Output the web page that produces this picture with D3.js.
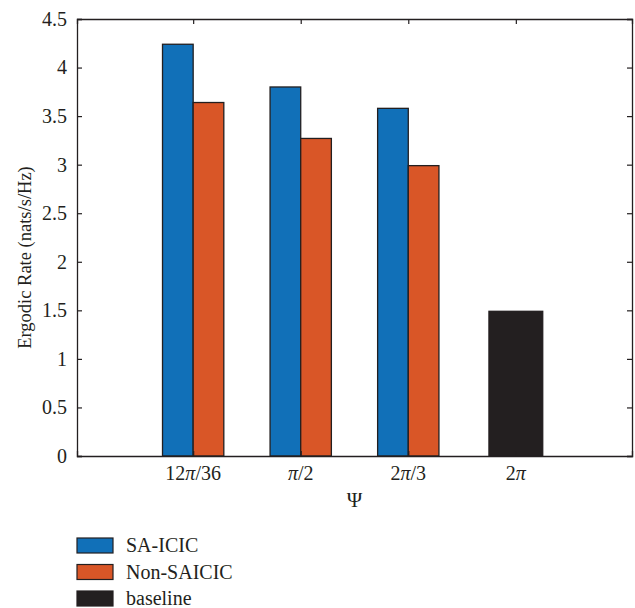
<!DOCTYPE html>
<html>
<head>
<meta charset="utf-8">
<script src="https://cdn.jsdelivr.net/npm/d3@7/dist/d3.min.js"></script>
<style>
  body { margin: 0; background: #fff; }
  svg text { font-family: "Liberation Serif", serif; fill: #231f20; }
</style>
</head>
<body>
<div id="chart"></div>
<script>
// values
const categories = ["12π/36", "π/2", "2π/3", "2π"];
const saIcic = [4.24, 3.80, 3.58];          // first three categories
const nonSaicic = [3.64, 3.27, 2.99];       // first three categories
const baseline = [1.49];                    // only at 2π
const yTicks = [0, 0.5, 1, 1.5, 2, 2.5, 3, 3.5, 4, 4.5];
const seriesNames = ["SA-ICIC", "Non-SAICIC", "baseline"];
const seriesColors = ["#1170b8", "#d95627", "#231f20"];

const W = 635, H = 608;
const m = {left: 77, right: 632, top: 19, bottom: 456};
const ink = "#231f20";

const svg = d3.select("#chart").append("svg")
    .attr("width", W).attr("height", H);

const x = d3.scaleLinear().domain([1 - 1.08, 4 + 1.08]).range([m.left, m.right]);
const y = d3.scaleLinear().domain([0, 4.5]).range([m.bottom, m.top]);

const pairW = 0.285, baseW = 0.5;

// bars
const bars = svg.append("g").attr("stroke", ink).attr("stroke-width", 1.3);
function addBars(vals, offset, width, color, startIdx) {
    bars.append("g").selectAll("rect")
        .data(vals)
        .join("rect")
        .attr("x", (d, i) => x(startIdx + i + 1 + offset - width / 2))
        .attr("width", x(width) - x(0))
        .attr("y", d => y(d))
        .attr("height", d => y(0) - y(d))
        .attr("fill", color);
}
addBars(saIcic, -pairW / 2, pairW, seriesColors[0], 0);
addBars(nonSaicic, pairW / 2, pairW, seriesColors[1], 0);
addBars(baseline, 0, baseW, seriesColors[2], 3);

// box axes
const xVals = categories.map((c, i) => i + 1);

const axes = svg.append("g");
axes.append("g").attr("transform", `translate(0,${m.bottom})`)
    .call(d3.axisBottom(x).tickValues(xVals).tickSize(-5).tickFormat(() => ""));
axes.append("g").attr("transform", `translate(0,${m.top})`)
    .call(d3.axisTop(x).tickValues(xVals).tickSize(-5).tickFormat(() => ""));
axes.append("g").attr("transform", `translate(${m.left},0)`)
    .call(d3.axisLeft(y).tickValues(yTicks).tickSize(-5).tickPadding(10).tickFormat(d3.format("")));
axes.append("g").attr("transform", `translate(${m.right},0)`)
    .call(d3.axisRight(y).tickValues(yTicks).tickSize(-5).tickFormat(() => ""));

axes.selectAll(".domain").attr("stroke", ink).attr("stroke-width", 1.3);
axes.selectAll(".tick line").attr("stroke", ink).attr("stroke-width", 1.2);
axes.selectAll(".tick text").attr("font-size", 20).attr("font-family", "Liberation Serif").attr("fill", ink);

// category labels with italic pi
const catG = svg.append("g");
categories.forEach((c, i) => {
    const t = catG.append("text")
        .attr("x", x(i + 1)).attr("y", m.bottom + 24)
        .attr("text-anchor", "middle").attr("font-size", 20);
    c.split(/(π)/).filter(s => s).forEach(s => {
        t.append("tspan").text(s).attr("font-style", s === "π" ? "italic" : null);
    });
});

// axis titles
svg.append("text")
    .attr("x", (m.left + m.right) / 2).attr("y", 507)
    .attr("text-anchor", "middle").attr("font-size", 21)
    .text("Ψ");
svg.append("text")
    .attr("transform", `translate(31,${(m.top + m.bottom) / 2 + 20}) rotate(-90)`)
    .attr("text-anchor", "middle").attr("font-size", 18.5)
    .text("Ergodic Rate (nats/s/Hz)");

// legend
const legend = svg.append("g").attr("transform", "translate(77,538)");
seriesNames.forEach((name, i) => {
    const g = legend.append("g").attr("transform", `translate(0,${i * 26.5})`);
    g.append("rect").attr("width", 36).attr("height", 15)
        .attr("fill", seriesColors[i]).attr("stroke", ink).attr("stroke-width", 1.2);
    g.append("text").attr("x", 49).attr("y", 14).attr("font-size", 20).text(name);
});
</script>
</body>
</html>
